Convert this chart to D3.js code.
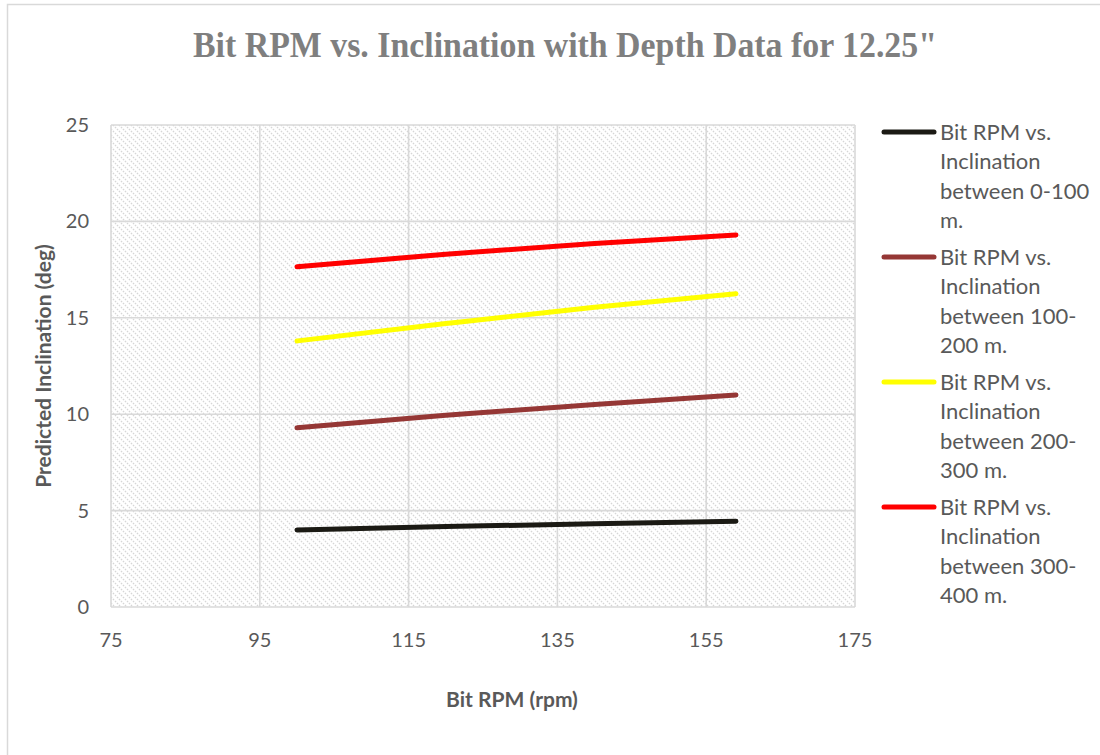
<!DOCTYPE html>
<meta charset="utf-8">
<style>
body { margin: 0; background: #fff; font-family: Lato, "Liberation Sans", sans-serif; }
.grid line { stroke: #d9d9d9; stroke-width: 1.6px; }
.tick-label { fill: #595959; font-size: 20px; }
.axis-title { fill: #595959; font-size: 21px; font-weight: bold; }
.legend text { fill: #595959; font-size: 22px; }
</style>
<body>
<script src="https://cdnjs.cloudflare.com/ajax/libs/d3/7.8.5/d3.min.js"></script>
<script>
// data
var rpm = [100, 120, 140, 159];
var seriesNames = [
  ["Bit RPM vs.", "Inclination", "between 0-100", "m."],
  ["Bit RPM vs.", "Inclination", "between 100-", "200 m."],
  ["Bit RPM vs.", "Inclination", "between 200-", "300 m."],
  ["Bit RPM vs.", "Inclination", "between 300-", "400 m."]
];
var depth0_100   = [4.0, 4.17, 4.32, 4.45];
var depth100_200 = [9.3, 9.95, 10.5, 11.0];
var depth200_300 = [13.8, 14.7, 15.55, 16.25];
var depth300_400 = [17.65, 18.3, 18.85, 19.3];
var colors = ["#1b1a14", "#953735", "#ffff00", "#ff0000"];
var xTicks = [75, 95, 115, 135, 155, 175];
var yTicks = [0, 5, 10, 15, 20, 25];

var W = 1100, H = 755;
var plot = {left: 111, right: 855, top: 125, bottom: 607};

var svg = d3.select("body").append("svg")
    .attr("width", W)
    .attr("height", H);

// outer chart border
svg.append("rect")
    .attr("x", 7.5).attr("y", 4.5)
    .attr("width", W).attr("height", H)
    .attr("fill", "#fff")
    .attr("stroke", "#d9d9d9")
    .attr("stroke-width", 1.5);

var defs = svg.append("defs");
var pat = defs.append("pattern")
    .attr("id", "hatch")
    .attr("patternUnits", "userSpaceOnUse")
    .attr("width", 6).attr("height", 6);
pat.append("rect").attr("width", 6).attr("height", 6).attr("fill", "#fff");
pat.append("path")
    .attr("d", "M-1,-1 L7,7 M-4,2 L2,8 M2,-4 L8,2")
    .attr("stroke", "#d6d6d6")
    .attr("stroke-width", 1.3)
    .attr("stroke-dasharray", "1.6,1.2");

var x = d3.scaleLinear().domain([75, 175]).range([plot.left, plot.right]);
var y = d3.scaleLinear().domain([0, 25]).range([plot.bottom, plot.top]);

svg.append("rect")
    .attr("x", plot.left).attr("y", plot.top)
    .attr("width", plot.right - plot.left)
    .attr("height", plot.bottom - plot.top)
    .attr("fill", "url(#hatch)");

var grid = svg.append("g").attr("class", "grid");
grid.selectAll(".gx").data(xTicks).enter().append("line")
    .attr("x1", function(d) { return x(d); }).attr("x2", function(d) { return x(d); })
    .attr("y1", plot.top).attr("y2", plot.bottom);
grid.selectAll(".gy").data(yTicks).enter().append("line")
    .attr("y1", function(d) { return y(d); }).attr("y2", function(d) { return y(d); })
    .attr("x1", plot.left).attr("x2", plot.right);

svg.append("g").selectAll("text").data(xTicks).enter().append("text")
    .attr("class", "tick-label")
    .attr("x", function(d) { return x(d); })
    .attr("y", 647)
    .attr("text-anchor", "middle")
    .text(function(d) { return d; });

svg.append("g").selectAll("text").data(yTicks).enter().append("text")
    .attr("class", "tick-label")
    .attr("x", 89)
    .attr("y", function(d) { return y(d) + 7; })
    .attr("text-anchor", "end")
    .text(function(d) { return d; });

var series = [depth0_100, depth100_200, depth200_300, depth300_400].map(function(vals, i) {
  return {color: colors[i], name: seriesNames[i], values: rpm.map(function(r, j) { return {x: r, y: vals[j]}; })};
});

var line = d3.line()
    .curve(d3.curveMonotoneX)
    .x(function(d) { return x(d.x); })
    .y(function(d) { return y(d.y); });

svg.append("g").selectAll("path").data(series).enter().append("path")
    .attr("d", function(d) { return line(d.values); })
    .attr("fill", "none")
    .attr("stroke", function(d) { return d.color; })
    .attr("stroke-width", 5)
    .attr("stroke-linecap", "round");

// title
svg.append("text")
    .attr("x", 565).attr("y", 57)
    .attr("text-anchor", "middle")
    .attr("fill", "#7f7f7f")
    .style("font-family", "'Liberation Serif', serif")
    .style("font-weight", "bold")
    .style("font-size", "35px")
    .attr("textLength", 744)
    .attr("lengthAdjust", "spacingAndGlyphs")
    .text("Bit RPM vs. Inclination with Depth Data for 12.25\"");

svg.append("text")
    .attr("class", "axis-title")
    .attr("x", 512).attr("y", 707)
    .attr("text-anchor", "middle")
    .text("Bit RPM (rpm)");

svg.append("text")
    .attr("class", "axis-title")
    .attr("transform", "translate(51," + ((plot.top + plot.bottom) / 2) + ") rotate(-90)")
    .attr("text-anchor", "middle")
    .text("Predicted Inclination (deg)");

// legend
var legend = svg.append("g").attr("class", "legend");
var item = legend.selectAll("g").data(series).enter().append("g")
    .attr("transform", function(d, i) { return "translate(0," + (132 + i * 125) + ")"; });
item.append("line")
    .attr("x1", 884).attr("x2", 934)
    .attr("stroke", function(d) { return d.color; })
    .attr("stroke-width", 5)
    .attr("stroke-linecap", "round");
item.selectAll("text").data(function(d) { return d.name; }).enter().append("text")
    .attr("x", 940)
    .attr("y", function(d, i) { return i * 29.3 + 8; })
    .text(function(d) { return d; });
</script>
</body>
